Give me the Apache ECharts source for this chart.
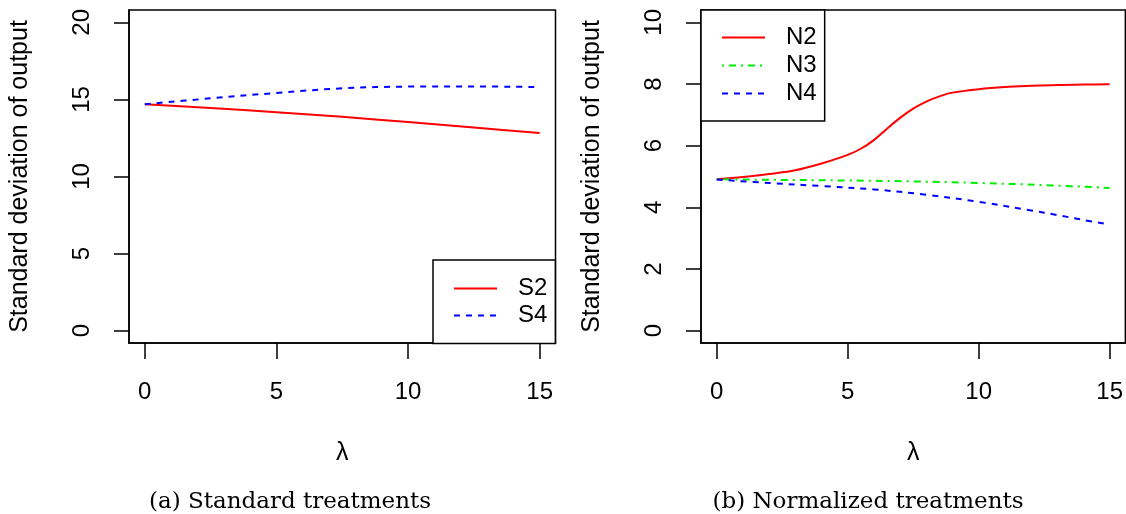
<!DOCTYPE html>
<html>
<head>
<meta charset="utf-8">
<script src="https://cdn.jsdelivr.net/npm/echarts@6/dist/echarts.min.js"></script>
<style>html,body{margin:0;padding:0;background:#fff}#c{width:1126px;height:514px}</style>
</head>
<body>
<div id="c"></div>
<script>
// ---- data ----
const lambdaS = [0, 2.5, 5, 7.5, 10, 12.5, 15];
const S2 = [14.69, 14.44, 14.17, 13.87, 13.53, 13.18, 12.82];
const S4 = [14.69, 15.07, 15.42, 15.72, 15.83, 15.84, 15.80];

const lambdaN2 = [0, 1, 2, 3, 4, 5, 5.5, 6, 6.5, 7, 7.5, 8, 8.5, 9, 10, 11, 12, 13, 14, 15];
const N2 = [4.91, 4.98, 5.08, 5.20, 5.42, 5.70, 5.90, 6.18, 6.55, 6.90, 7.20, 7.43, 7.60, 7.72, 7.83, 7.90, 7.94, 7.97, 7.98, 7.99];
const lambdaN3 = [0, 2.5, 5, 7.5, 10, 12.5, 15];
const N3 = [4.91, 4.89, 4.87, 4.84, 4.79, 4.72, 4.63];
const lambdaN4 = [0, 2, 4, 6, 8, 10, 12, 13, 14, 15];
const N4 = [4.90, 4.79, 4.69, 4.58, 4.41, 4.18, 3.90, 3.75, 3.59, 3.44];

const xTicks = [0, 5, 10, 15];
const yTicksLeft = [0, 5, 10, 15, 20];
const yTicksRight = [0, 2, 4, 6, 8, 10];

const yTitle = 'Standard deviation of output';
const xTitle = 'λ';
const captionA = '(a) Standard treatments';
const captionB = '(b) Normalized treatments';

// ---- build ----
const pairs = (xs, ys) => xs.map((x, i) => [x, ys[i]]);
const FONT = 'Liberation Sans';
const black = '#000';

function xAxisCfg(gi) {
  return {
    gridIndex: gi, type: 'value', min: -0.6, max: 15.6,
    name: xTitle, nameLocation: 'middle', nameGap: 98,
    nameTextStyle: { fontFamily: FONT, fontSize: 25, color: black },
    axisLine: { show: true, onZero: false, lineStyle: { color: black, width: 1.5 } },
    axisTick: { show: true, inside: false, length: 16, customValues: xTicks, lineStyle: { color: black, width: 1.5 } },
    axisLabel: { customValues: xTicks, margin: 37, fontFamily: FONT, fontSize: 24, color: black },
    splitLine: { show: false }
  };
}
function yAxisCfg(gi, min, max, ticks) {
  return {
    gridIndex: gi, type: 'value', min: min, max: max,
    name: yTitle, nameLocation: 'middle', nameGap: 96,
    nameTextStyle: { fontFamily: FONT, fontSize: 25, color: black },
    axisLine: { show: true, onZero: false, lineStyle: { color: black, width: 1.5 } },
    axisTick: { show: true, inside: false, length: 15, customValues: ticks, lineStyle: { color: black, width: 1.5 } },
    axisLabel: { customValues: ticks, rotate: 90, margin: 35, fontFamily: FONT, fontSize: 24, color: black },
    splitLine: { show: false }
  };
}
function lineSeries(name, xi, data, color, type) {
  return {
    name: name, type: 'line', xAxisIndex: xi, yAxisIndex: xi,
    data: data, smooth: 0.35, symbol: 'none', showSymbol: false,
    lineStyle: { color: color, width: 2, type: type },
    itemStyle: { color: color }
  };
}
const legendCommon = {
  orient: 'vertical', itemWidth: 43, itemHeight: 14,
  borderColor: black, borderWidth: 1.5, backgroundColor: '#fff',
  itemStyle: { opacity: 0 },
  textStyle: { fontFamily: FONT, fontSize: 24, lineHeight: 24, color: black, padding: [0, 0, 0, 16] },
  selectedMode: false
};

const chart = echarts.init(document.getElementById('c'), null, { renderer: 'canvas' });
chart.setOption({
  backgroundColor: '#fff',
  animation: false,
  grid: [
    { left: 129, top: 10, width: 426.5, height: 333, show: true, borderColor: black, borderWidth: 1.5, backgroundColor: 'transparent' },
    { left: 701, top: 10, width: 424.5, height: 333, show: true, borderColor: black, borderWidth: 1.5, backgroundColor: 'transparent' }
  ],
  xAxis: [xAxisCfg(0), xAxisCfg(1)],
  yAxis: [yAxisCfg(0, -0.8, 20.8, yTicksLeft), yAxisCfg(1, -0.4, 10.4, yTicksRight)],
  legend: [
    Object.assign({}, legendCommon, { data: ['S2', 'S4'], left: 433, top: 260, itemGap: 3, padding: [16.5, 8, 16, 20] }),
    Object.assign({}, legendCommon, { data: ['N2', 'N3', 'N4'], left: 701, top: 10, itemGap: 4, padding: [15.5, 8, 15.5, 20] })
  ],
  series: [
    lineSeries('S2', 0, pairs(lambdaS, S2), '#ff0000', 'solid'),
    lineSeries('S4', 0, pairs(lambdaS, S4), '#0000ff', [6, 6]),
    lineSeries('N2', 1, pairs(lambdaN2, N2), '#ff0000', 'solid'),
    lineSeries('N3', 1, pairs(lambdaN3, N3), '#00ee00', [2, 5, 7, 5]),
    lineSeries('N4', 1, pairs(lambdaN4, N4), '#0000ff', [6, 6])
  ],
  graphic: [
    { type: 'text', x: 290, y: 502, style: { text: captionA, font: '23px "DejaVu Serif"', fill: black, align: 'center', verticalAlign: 'middle' } },
    { type: 'text', x: 868, y: 502, style: { text: captionB, font: '23px "DejaVu Serif"', fill: black, align: 'center', verticalAlign: 'middle' } }
  ]
});
</script>
</body>
</html>
